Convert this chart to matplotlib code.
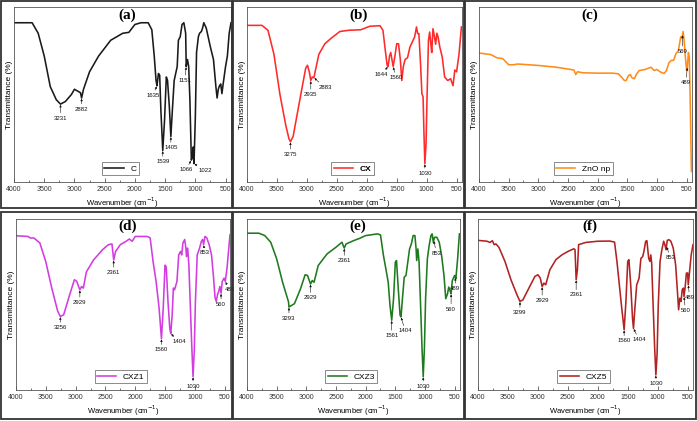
import numpy as np
import matplotlib
matplotlib.use("Agg")
import matplotlib.pyplot as plt
from matplotlib.patches import Rectangle

# ---------------- data ----------------
wn_a = [4000, 3700, 3600, 3500, 3400, 3300, 3231, 3150, 3050, 3000, 2950, 2900, 2882, 2850, 2750, 2600, 2400, 2200, 2100, 2000, 1900, 1780, 1720, 1680, 1650, 1635, 1610, 1590, 1570, 1539, 1510, 1480, 1460, 1430, 1405, 1380, 1350, 1300, 1280, 1250, 1220, 1190, 1160, 1151, 1130, 1110, 1090, 1066, 1050, 1035, 1022, 1000, 980, 950, 930, 900, 880, 860, 820, 750, 700, 660, 640, 620, 600, 580, 560, 540, 500, 470, 440, 410]
t_a = [91, 91, 85, 72, 54.5, 47, 44.5, 46, 50, 53, 52, 51, 48, 53, 63, 72, 81, 85, 85.5, 90, 91, 91, 87, 72, 58, 55, 62, 61, 41, 18, 35, 60, 58, 43, 26, 41, 58, 66, 81, 83, 90, 91, 85, 66, 70, 66, 47, 12.5, 14, 20, 10.5, 37, 74, 83, 85, 86, 88, 91, 88, 77, 70, 54.5, 48, 53, 55, 56, 50.5, 56, 66, 72, 85, 91]

wn_b = [4000, 3750, 3650, 3550, 3450, 3350, 3300, 3275, 3230, 3150, 3080, 3020, 2990, 2960, 2935, 2910, 2883, 2850, 2800, 2700, 2600, 2450, 2300, 2100, 1950, 1780, 1730, 1690, 1660, 1644, 1620, 1600, 1580, 1560, 1530, 1500, 1470, 1440, 1415, 1390, 1360, 1320, 1280, 1240, 1200, 1170, 1150, 1130, 1100, 1080, 1060, 1045, 1030, 1010, 995, 970, 950, 930, 915, 895, 870, 850, 830, 810, 780, 740, 700, 650, 600, 560, 530, 500, 460, 420]
t_b = [89.5, 89.5, 86.7, 73, 50, 32, 24.8, 23, 26, 41, 54, 65, 66.7, 63, 58, 60, 59.6, 65, 73, 79, 82, 86, 86.7, 87, 89, 89.3, 86.7, 75, 66.7, 66, 72, 74, 70, 66, 72, 79, 79, 70, 58, 66, 70, 71, 77, 80, 83, 88.6, 84.8, 84.8, 66, 50.5, 48.6, 27.6, 10.5, 22, 46.7, 81, 85.7, 78.7, 74, 87.6, 83, 78.7, 85, 83, 77, 71.4, 60, 58, 59, 55, 64, 63, 73, 88.6]

wn_c = [4000, 3800, 3700, 3600, 3500, 3420, 3350, 3250, 3000, 2700, 2400, 2370, 2340, 2250, 2000, 1750, 1650, 1600, 1550, 1520, 1480, 1450, 1420, 1380, 1350, 1300, 1200, 1100, 1050, 1000, 950, 880, 840, 800, 760, 720, 680, 640, 600, 580, 560, 540, 520, 500, 489, 470, 455, 440, 420]
t_c = [73.7, 72.8, 71, 70.5, 67, 67, 67.4, 67.2, 66.6, 65.6, 64, 61.4, 63, 62.4, 62.2, 62.2, 61.8, 60, 58, 58, 60.8, 61.4, 59.5, 59, 61.4, 63.7, 64.3, 65.6, 63.7, 64.3, 63, 62, 63.7, 68, 69.5, 69.5, 73.4, 75, 83, 82, 86, 80, 70.5, 63.7, 65.6, 74, 71, 46, 6]

wn_d = [4000, 3800, 3760, 3700, 3600, 3500, 3400, 3300, 3256, 3200, 3100, 3020, 2980, 2950, 2929, 2900, 2870, 2820, 2700, 2550, 2450, 2390, 2361, 2330, 2250, 2150, 2100, 2050, 2000, 1800, 1750, 1700, 1650, 1600, 1560, 1530, 1500, 1480, 1450, 1420, 1404, 1380, 1360, 1340, 1300, 1270, 1240, 1220, 1200, 1170, 1150, 1140, 1120, 1100, 1080, 1050, 1030, 1010, 990, 960, 920, 890, 870, 853, 830, 800, 760, 720, 690, 660, 640, 620, 600, 580, 560, 540, 510, 489, 460, 430, 410]
t_d = [90.2, 89.8, 88.9, 88.9, 86, 75, 59.6, 46, 43, 44, 55.7, 64.5, 63.5, 60.5, 58.6, 60.5, 59.6, 69, 76, 82, 85, 85.4, 76, 81, 85, 87, 88.3, 87, 89.8, 89.8, 89, 75, 63.5, 48, 30, 48, 73, 72, 51.5, 36, 33, 44, 59.6, 58.6, 63.5, 79, 81, 79, 86, 88, 83, 78, 83, 73, 53.7, 24.4, 7.8, 22.5, 51.8, 79, 83, 87, 88, 85, 89.8, 89, 85, 79, 67.4, 53.7, 51.8, 55.7, 57.6, 60.5, 56.6, 63.5, 65.4, 63.5, 71.3, 83, 90.8]

wn_e = [4000, 3800, 3700, 3600, 3500, 3400, 3300, 3293, 3200, 3100, 3020, 2980, 2950, 2929, 2900, 2870, 2800, 2650, 2500, 2400, 2361, 2330, 2200, 2100, 2000, 1800, 1750, 1700, 1650, 1620, 1590, 1561, 1530, 1500, 1480, 1450, 1420, 1404, 1380, 1350, 1320, 1290, 1260, 1230, 1200, 1170, 1150, 1140, 1120, 1100, 1080, 1050, 1030, 1010, 990, 960, 930, 900, 880, 860, 840, 800, 760, 720, 680, 650, 620, 600, 580, 560, 540, 500, 480, 450, 420]
t_e = [91.7, 91.7, 90.3, 86.4, 76.7, 63, 51.5, 48.5, 50.5, 59, 67.4, 67, 64, 62, 64, 63, 72.8, 79.6, 83.5, 86.4, 83, 85.4, 87.4, 88.7, 90.3, 91.3, 90.7, 78.6, 69, 63, 49.5, 40.8, 53.4, 74.8, 75.7, 59, 43.7, 42.7, 53.4, 66, 67, 74.8, 82.5, 85.4, 90.3, 90.3, 82.5, 75.7, 82.5, 74.8, 55.3, 24.3, 7.8, 24.3, 53.4, 76.7, 84.5, 90.3, 91.3, 86.4, 89.3, 89.3, 86.4, 78.6, 67, 53.4, 56.3, 60.2, 58.3, 56.3, 64, 67, 65, 76.7, 91.3]

wn_f = [4000, 3850, 3800, 3760, 3730, 3700, 3650, 3550, 3450, 3350, 3299, 3250, 3150, 3050, 3000, 2960, 2929, 2900, 2870, 2800, 2700, 2600, 2500, 2400, 2380, 2361, 2340, 2320, 2200, 2000, 1800, 1720, 1680, 1640, 1600, 1560, 1530, 1500, 1480, 1450, 1420, 1404, 1380, 1350, 1310, 1280, 1250, 1230, 1200, 1180, 1150, 1130, 1115, 1100, 1080, 1050, 1030, 1010, 990, 960, 930, 900, 880, 860, 840, 810, 780, 740, 700, 670, 650, 630, 610, 590, 570, 560, 540, 520, 500, 489, 470, 440, 410]
t_f = [87.5, 87, 86.3, 87.3, 85, 85.4, 83.4, 75.2, 64.5, 55.7, 51.8, 52.7, 59.6, 66.4, 67.4, 65.4, 60.5, 62.5, 61.5, 70.3, 76.2, 79, 81, 82.6, 82, 64.5, 70.3, 85, 86.3, 87, 87.1, 86.5, 75.2, 61.5, 47.9, 35.2, 51.8, 75.2, 76.2, 61.5, 42, 36, 47.9, 61.5, 65.4, 77, 78, 81, 87, 87.3, 77, 75.2, 79, 74.2, 53.7, 24.4, 8.8, 20.5, 49.8, 75.2, 82, 87, 85, 82, 87.5, 87.9, 87, 83, 73.2, 57.6, 46.9, 53.7, 51.8, 58.6, 59.6, 54.7, 60.5, 68.4, 68.4, 61.5, 68.4, 79, 85]

series_names = ["C", "CX", "ZnO np", "CXZ1", "CXZ3", "CXZ5"]
panel_tags = ["(a)", "(b)", "(c)", "(d)", "(e)", "(f)"]

peaks_a = [3231, 2882, 1635, 1539, 1405, 1151, 1066, 1022]
peaks_b = [3275, 2935, 2883, 1644, 1560, 1030]
peaks_c = [569, 489]
peaks_d = [3256, 2929, 2361, 1560, 1404, 1030, 853, 560, 489]
peaks_e = [3293, 2929, 2361, 1561, 1404, 1030, 853, 560, 489]
peaks_f = [3299, 2929, 2361, 1560, 1404, 1030, 853, 560, 489]

xticks = [4000, 3500, 3000, 2500, 2000, 1500, 1000, 500]

# ---------------- styling ----------------
colors = ["#1a1a1a", "#ff2a2a", "#ff8c1a", "#d23ce0", "#1f7a1f", "#b22222"]
offsets = [
    [(0, -10), (0, -8), (-3, -7), (0, -8), (0, -8), (-1, -10), (-4, -7), (8, -5)],
    [(0, -9), (0, -10), (8, -7), (-5, -6), (2, -8), (0, -7)],
    [(0, -12), (-1, -11)],
    [(0, -8), (0, -9), (0, -9), (0, -8), (6, -6), (0, -7), (1, -6), (0, -8), (3, -6)],
    [(0, -8), (0, -10), (0, -9), (0, -11), (3, -10), (0, -7), (2, -9), (0, -11), (0, -8)],
    [(0, -8), (0, -10), (0, -11), (0, -8), (4, -8), (0, -6), (3, -8), (1, -10), (1, -9)],
]

W, H = 697, 421
fig = plt.figure(figsize=(W / 100, H / 100), dpi=100)
fig.patch.set_facecolor("white")

# axes boxes in pixels: (left, top, right, bottom)
boxes = [
    (14, 7, 231, 182), (247, 7, 462, 182), (479, 7, 692, 182),
    (16, 219, 230, 390), (247, 219, 460, 390), (478, 219, 693, 390),
]
frames = [
    (1, 1, 232, 208), (233, 1, 464, 208), (465, 1, 696, 208),
    (1, 212, 232, 419), (233, 212, 464, 419), (465, 212, 696, 419),
]
for (x0, y0, x1, y1) in frames:
    fig.add_artist(Rectangle((x0 / W, 1 - y1 / H), (x1 - x0) / W, (y1 - y0) / H,
                             transform=fig.transFigure, fill=False,
                             ec="#333333", lw=1.3))

all_wn = [wn_a, wn_b, wn_c, wn_d, wn_e, wn_f]
all_t = [t_a, t_b, t_c, t_d, t_e, t_f]
all_peaks = [peaks_a, peaks_b, peaks_c, peaks_d, peaks_e, peaks_f]

sans = ["Liberation Sans", "DejaVu Sans"]

for i in range(6):
    l, t, r, b = boxes[i]
    ax = fig.add_axes([l / W, 1 - b / H, (r - l) / W, (b - t) / H])
    wn = np.array(all_wn[i], dtype=float)
    tt = np.array(all_t[i], dtype=float)
    ax.plot(wn, tt, color=colors[i], lw=1.15, label=series_names[i], solid_joinstyle="round")
    ax.set_xlim(4000, 410)
    ax.set_ylim(0, 100)
    ax.set_xticks(xticks)
    ax.set_xticks(np.arange(4000, 400, -250), minor=True)
    ax.set_xticklabels([str(v) for v in xticks], fontsize=5, family=sans)
    ax.tick_params(axis="x", which="major", direction="in", length=3, width=0.5, pad=3, colors="#333333")
    ax.tick_params(axis="x", which="minor", direction="in", length=1.5, width=0.4)
    ax.set_yticks([])
    for s in ax.spines.values():
        s.set_linewidth(0.6)
        s.set_color("#555555")
    ax.set_xlabel("Wavenumber (cm$^{-1}$)", fontsize=5.5, family=sans, labelpad=2)
    ax.set_ylabel("Transmittance (%)", fontsize=6.0, family=sans, labelpad=1)
    ax.text(0.52, 0.955, panel_tags[i], transform=ax.transAxes, ha="center", va="center",
            fontsize=11, fontweight="bold", family=["Liberation Serif", "DejaVu Serif"])
    order = np.argsort(wn)
    for pk, (dx, dy) in zip(all_peaks[i], offsets[i]):
        yp = np.interp(pk, wn[order], tt[order])
        ax.annotate(str(pk), xy=(pk, yp), xytext=(dx, dy), textcoords="offset points",
                    ha="center", va="center", fontsize=4.3, family=sans, color="#111111",
                    arrowprops=dict(arrowstyle="-|>", lw=0.4, color="#111111",
                                    mutation_scale=3, shrinkA=0, shrinkB=0.5))
    leg = ax.legend(loc="lower center", bbox_to_anchor=(0.49, 0.015),
                    handlelength=2.3, borderpad=0.3, fancybox=False, framealpha=1,
                    edgecolor="#777777", prop=dict(family=sans, size=6,
                                                   weight=("bold" if i == 1 else "normal")))
    leg.get_frame().set_linewidth(0.6)

fig.savefig("out.png", dpi=100, facecolor="white")
